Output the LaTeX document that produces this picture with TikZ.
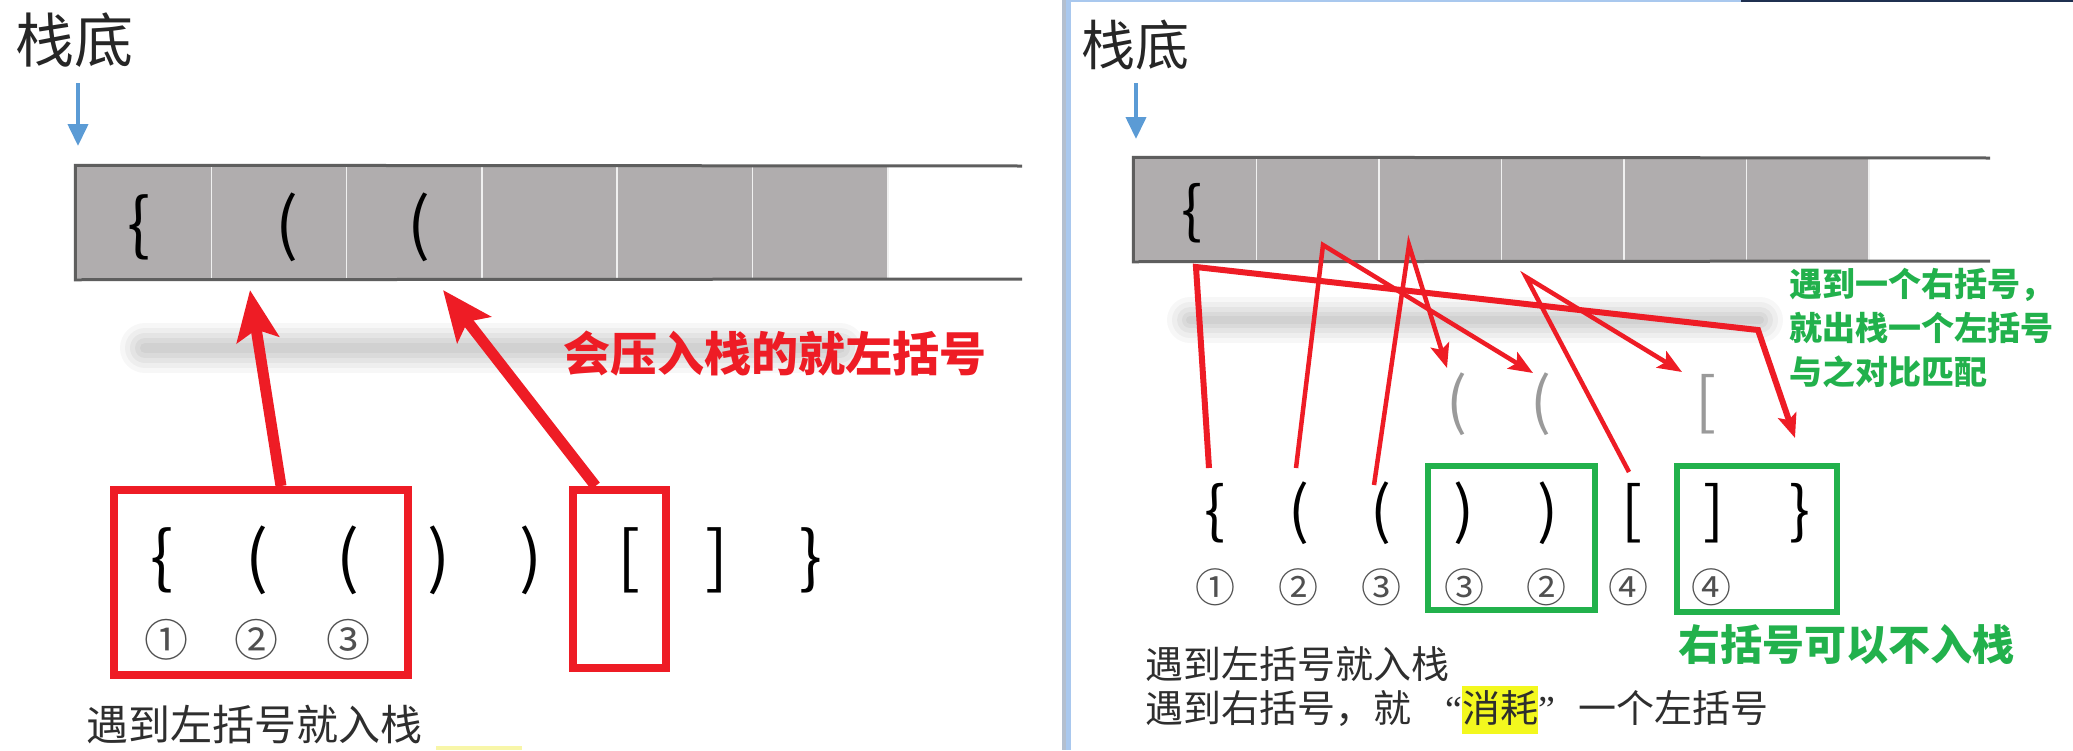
\documentclass[tikz,border=0pt]{standalone}
\usepackage{fontspec}
\setmainfont{Noto Sans CJK SC}
\newfontfamily\quotefont{Liberation Serif}
\usetikzlibrary{arrows.meta}
\definecolor{pred}{HTML}{EE1C25}
\definecolor{pgreen}{HTML}{22B14C}
\definecolor{cellgray}{HTML}{B0ADAE}
\definecolor{edgegray}{HTML}{5E5E5E}
\definecolor{arrowblue}{HTML}{5B9BD5}
\definecolor{txtgray}{HTML}{2E2E2E}
\definecolor{numgray}{HTML}{505050}
\definecolor{fadegray}{HTML}{9A9A9A}
\definecolor{hlyellow}{HTML}{F3F81E}
\definecolor{stripyellow}{HTML}{F8F6A8}
\definecolor{sepA}{HTML}{B3BFCF}
\definecolor{sepB}{HTML}{A9C8EE}
\definecolor{navyline}{HTML}{1F3050}
\newcommand\fs[1]{\fontsize{#1}{#1}\selectfont}
\tikzset{
  txt/.style={inner sep=0, anchor=west, text=txtgray},
  glyph/.style={inner sep=0, text=black},
  numtxt/.style={inner sep=0, text=numgray},
  cellbox/.style={draw=white!88!gray, line width=1.5, fill=cellgray, inner sep=0},
  edgeline/.style={draw=edgegray, line width=3},
  bluearrow/.style={draw=arrowblue, line width=4, -{Triangle[length=22,width=20]}},
  redbox/.style={draw=pred, line width=8, inner sep=0},
  greenbox/.style={draw=pgreen, line width=6, inner sep=0},
  bigred/.style={draw=pred, line width=11, -{Stealth[length=50,width=42,inset=10]}},
  thinred/.style={draw=pred, line width=4.5, line join=miter, -{Stealth[length=24,width=19,inset=5]}},
  thickred/.style={thinred, line width=6},
}
\begin{document}
\begin{tikzpicture}[x=1pt,y=-1pt]
\useasboundingbox (0,0) rectangle (2073,750);
\fill[white] (0,0) rectangle (2073,750);

% ================= LEFT PANEL =================
\node[txt, text=black!85, font=\fs{59}] (topL) at (15,40) {栈底};
\coordinate (bLs) at (78,83);
\coordinate (bLe) at (78,146);
\draw[bluearrow] (bLs) -- (bLe);

% shadow band
\foreach \w/\o in {50/0.03,40/0.035,30/0.04,20/0.045,10/0.04}
  \draw[line width=\w, black, opacity=\o, line cap=round] (145,348) -- (840,348);

% stack cells
\foreach \i in {1,...,6}
  \node[cellbox, minimum width=135.3, minimum height=113] (L\i) at ({76+135.3*(\i-0.5)},222.5) {};
\draw[edgeline] (1022,166) -- (L1.north west) -- (L1.south west) -- (1022,279);

\node[glyph, font=\fs{68}] (sL1) at (139,227) {\{};
\node[glyph, font=\fs{68}] (sL2) at (287,227) {(};
\node[glyph, font=\fs{68}] (sL3) at (419,227) {(};

% red label
\node[inner sep=0, anchor=west, text=pred, font=\fs{47}\bfseries] (lblL) at (563,354) {会压入栈的就左括号};

% bracket row
\foreach \x/\g/\n in {162/\{/1,257/(/2,348/(/3,439/)/4,531/)/5,629/[/6,717/]/7,811/\}/8}
  \node[glyph, font=\fs{68}] (rL\n) at (\x,560) {\g};
\foreach \x/\g/\n in {166/①/1,256/②/2,348/③/3}
  \node[numtxt, font=\fs{44}] (nL\n) at (\x,640) {\g};

% red boxes
\node[redbox, minimum width=294, minimum height=185] (boxA) at (261,582.5) {};
\node[redbox, minimum width=93, minimum height=178] (boxB) at (619.5,579) {};

% big arrows
\coordinate (tA) at (250,290);
\coordinate (tB) at (443,290);
\draw[bigred] ([xshift=20]boxA.north) -- (tA);
\draw[bigred] ([xshift=-24]boxB.north) -- (tB);

\node[txt, font=\fs{42}] (capL) at (86,725) {遇到左括号就入栈};
\fill[stripyellow] (436,746) rectangle (522,750);

% ================= SEPARATOR =================
\fill[sepA] (1062,0) rectangle (1066,750);
\fill[sepB] (1066,0) rectangle (1071,750);
\fill[sepB] (1071,0) rectangle (1741,2);
\fill[navyline] (1741,0) rectangle (2073,2);

% ================= RIGHT PANEL =================
\node[txt, text=black!85, font=\fs{54}] (topR) at (1081,45) {栈底};
\coordinate (bRs) at (1136,83);
\coordinate (bRe) at (1136,139);
\draw[bluearrow] (bRs) -- (bRe);

\foreach \w/\o in {46/0.03,36/0.035,26/0.04,16/0.045,8/0.04}
  \draw[line width=\w, black, opacity=\o, line cap=round] (1190,320) -- (1760,320);

\foreach \i in {1,...,6}
  \node[cellbox, minimum width=122.5, minimum height=103] (R\i) at ({1134+122.5*(\i-0.5)},209.5) {};
\draw[edgeline] (1990,158) -- (R1.north west) -- (R1.south west) -- (1990,261);

\node[glyph, font=\fs{62}] (sR1) at (1192,213) {\{};

% faded popped brackets
\node[glyph, text=fadegray, font=\fs{62}] (fR1) at (1457,404) {(};
\node[glyph, text=fadegray, font=\fs{62}] (fR2) at (1541,404) {(};
\node[glyph, text=fadegray, font=\fs{62}] (fR3) at (1706,404) {[};

% bracket row
\foreach \x/\g/\n in {1215/\{/1,1299/(/2,1381/(/3,1464/)/4,1548/)/5,1632/[/6,1714/]/7,1800/\}/8}
  \node[glyph, font=\fs{62}] (rR\n) at (\x,513) {\g};
\foreach \x/\g/\n in {1215/①/1,1298/②/2,1381/③/3,1464/③/4,1546/②/5,1628/④/6,1711/④/7}
  \node[numtxt, font=\fs{40}] (nR\n) at (\x,587) {\g};

% green boxes
\node[greenbox, minimum width=167, minimum height=144] (gA) at (1511.5,538) {};
\node[greenbox, minimum width=160, minimum height=146] (gB) at (1757,539) {};

% red connectors
\coordinate (p1a) at (1209,468);
\coordinate (p1b) at (1196,267);
\coordinate (p1c) at (1758,330);
\coordinate (p1d) at (1795,438);
\draw[thickred] (p1a) -- (p1b) -- (p1c) -- (p1d);
\coordinate (p2a) at (1296,468);
\coordinate (p2b) at (1323,245);
\coordinate (p2c) at (1533,373);
\draw[thinred] (p2a) -- (p2b) -- (p2c);
\coordinate (p3a) at (1374,485);
\coordinate (p3b) at (1409,245);
\coordinate (p3c) at (1447,368);
\draw[thinred] (p3a) -- (p3b) -- (p3c);
\coordinate (p4a) at (1629,472);
\coordinate (p4b) at (1526,277);
\coordinate (p4c) at (1682,372);
\draw[thinred] (p4a) -- (p4b) -- (p4c);

% green texts
\node[inner sep=0, anchor=north west, align=left, text=pgreen, font=\fontsize{33}{44}\selectfont\bfseries] (noteR) at (1789,268) {遇到一个右括号，\\就出栈一个左括号\\与之对比匹配};
\node[inner sep=0, anchor=west, text=pgreen, font=\fs{42}\bfseries] (noteG) at (1678,645) {右括号可以不入栈};

% captions
\node[txt, font=\fs{38}] (capR1) at (1145,664) {遇到左括号就入栈};
\node[txt, font=\fs{38}] (capR2) at (1145,710) {遇到右括号，就\hspace{34pt}{\quotefont “}{\setlength{\fboxsep}{0pt}\colorbox{hlyellow}{\rule[-0.3em]{0pt}{1.25em}消耗}}{\quotefont ”}\hspace{24pt}一个左括号};
\end{tikzpicture}
\end{document}
